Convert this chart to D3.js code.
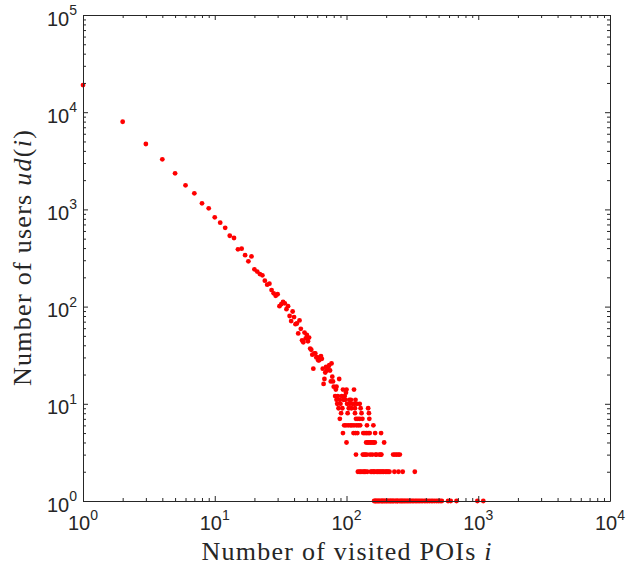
<!DOCTYPE html>
<html>
<head>
<meta charset="utf-8">
<script src="https://cdn.jsdelivr.net/npm/d3@7"></script>
<style>
  body { margin: 0; background: #fff; }
  svg { display: block; }
</style>
</head>
<body>
<div id="chart-container"></div>
<script>
// POIs visited (i) -> number of users ud(i)
const headPois = [1, 2, 3, 4, 5, 6, 7, 8, 9, 10, 11, 12, 13, 14, 15, 16, 17, 18, 19, 20,
  21, 22, 23, 24, 25, 26, 27, 28, 29, 30, 31, 32, 33, 34, 35, 36, 37, 38, 39, 40,
  41, 42, 43, 44, 45, 46, 47, 48, 49, 50, 51, 52, 53, 54, 55, 56, 57, 58, 59, 60,
  61, 62, 63, 64, 65, 66, 69, 70, 71, 73, 74, 75, 77];
const headUsers = [19000, 7980, 4710, 3275, 2350, 1770, 1465, 1155, 1027, 829, 730, 646, 536, 508, 388, 394, 338, 292, 328, 242,
  229, 216, 210, 185, 168, 172, 148, 137, 129, 134, 101, 106, 112, 108, 94, 101, 80, 71, 89, 78,
  66, 67, 53, 72, 59, 45, 43, 54, 47, 51, 44, 48, 37, 36, 32, 23, 33, 33, 30, 30,
  28, 28, 30, 31, 29, 23, 21, 24, 22, 24, 25, 22, 26];

// low counts line up in rows (same number of users, many POI values)
const rowUsers = [19, 18, 17, 16, 15, 14, 13, 12, 11, 10, 9, 8, 7, 6, 5, 4, 3, 2, 1];
const rowPois = [
  [78],
  [68, 88],
  [76, 79],
  [67],
  [80, 84],
  [83, 94, 100, 114],
  [99],
  [82, 86, 92, 97],
  [84, 89, 95, 98, 105, 108, 117],
  [85, 90, 101, 106, 111, 115, 120, 126],
  [87, 93, 104, 109, 116, 128, 146],
  [91, 102, 116, 130, 148],
  [89, 118, 122, 126, 132, 149],
  [96, 99, 103, 107, 110, 114, 119, 123, 127, 143, 160],
  [94, 113, 117, 121, 134, 138, 142, 146, 150, 165, 183],
  [100, 141, 145, 148, 152, 156, 160, 164, 193],
  [118, 133, 136, 139, 143, 151, 157, 166, 169, 177, 182, 184, 226, 233, 240, 247, 254],
  [122, 125, 128, 131, 135, 137, 140, 144, 153, 155, 159, 161, 163, 168, 172, 174, 178,
   181, 185, 189, 191, 197, 200, 204, 208, 212, 231, 248, 267, 330],
  [162, 165, 167, 170, 173, 176, 179, 183, 186, 188, 192, 195, 199, 202, 206, 210, 214,
   217, 221, 225, 228, 234, 238, 243, 245, 252, 257, 262, 266, 272, 277, 283, 289, 295,
   302, 308, 316, 323, 332, 340, 349, 358, 368, 378, 390, 401, 413, 426, 440, 452, 467,
   483, 498, 514, 529, 590, 618, 684, 985, 1092]
];

const xMajorTicks = [1, 10, 100, 1000, 10000];
const yMajorTicks = [1, 10, 100, 1000, 10000, 100000];

((() => {
  const width = 626;
  const height = 572;
  const marginTop = 15;
  const marginRight = 16;
  const marginBottom = 71;
  const marginLeft = 83;
  const axisColor = "#262626";

  const points = headPois.map((p, i) => ({poi: p, users: headUsers[i]}));
  rowUsers.forEach((u, r) => rowPois[r].forEach(p => points.push({poi: p, users: u})));

  const x = d3.scaleLog()
    .domain([1, 1e4])
    .range([marginLeft, width - marginRight]);

  const y = d3.scaleLog()
    .domain([1, 1e5])
    .range([height - marginBottom, marginTop]);

  // minor ticks 2..9 in every decade
  const minorOf = majors => majors.slice(0, -1)
    .flatMap(d => [2, 3, 4, 5, 6, 7, 8, 9].map(k => d * k));
  const xMinorTicks = minorOf(xMajorTicks);
  const yMinorTicks = minorOf(yMajorTicks);

  const svg = d3.create("svg")
    .attr("width", width)
    .attr("height", height)
    .attr("viewBox", [0, 0, width, height]);

  // points first so the box sits on top of them
  svg.append("g")
    .attr("fill", "#ff0000")
    .selectAll("circle")
    .data(points)
    .join("circle")
    .attr("cx", d => x(d.poi))
    .attr("cy", d => y(d.users))
    .attr("r", 2.4);

  // box with inward ticks on all four sides
  const sides = [
    {axis: d3.axisBottom, scale: x, tr: `translate(0,${height - marginBottom})`, major: xMajorTicks, minor: xMinorTicks},
    {axis: d3.axisTop, scale: x, tr: `translate(0,${marginTop})`, major: xMajorTicks, minor: xMinorTicks},
    {axis: d3.axisLeft, scale: y, tr: `translate(${marginLeft},0)`, major: yMajorTicks, minor: yMinorTicks},
    {axis: d3.axisRight, scale: y, tr: `translate(${width - marginRight},0)`, major: yMajorTicks, minor: yMinorTicks}
  ];
  sides.forEach(s => {
    svg.append("g")
      .attr("transform", s.tr)
      .attr("color", axisColor)
      .call(s.axis(s.scale).tickValues(s.minor).tickSizeInner(-3).tickSizeOuter(0).tickFormat(""))
      .call(g => g.select(".domain").remove());
    svg.append("g")
      .attr("transform", s.tr)
      .attr("color", axisColor)
      .call(s.axis(s.scale).tickValues(s.major).tickSizeInner(-5).tickSizeOuter(0).tickFormat(""));
  });

  const tickFont = "'Liberation Sans', Arial, Helvetica, sans-serif";

  // x tick labels 10^k
  const xl = svg.append("g")
    .attr("fill", axisColor)
    .attr("font-family", tickFont)
    .attr("font-size", 20)
    .selectAll("text")
    .data(xMajorTicks)
    .join("text")
    .attr("x", d => x(d))
    .attr("y", height - marginBottom + 29)
    .attr("text-anchor", "middle");
  xl.append("tspan").text("10");
  xl.append("tspan").attr("font-size", 14).attr("dy", -10).text(d => Math.round(Math.log10(d)));

  // y tick labels 10^k
  const yl = svg.append("g")
    .attr("fill", axisColor)
    .attr("font-family", tickFont)
    .attr("font-size", 20)
    .selectAll("text")
    .data(yMajorTicks)
    .join("text")
    .attr("x", marginLeft - 6)
    .attr("y", d => y(d) + 10.5)
    .attr("text-anchor", "end");
  yl.append("tspan").text("10");
  yl.append("tspan").attr("font-size", 14).attr("dy", -10.5).text(d => Math.round(Math.log10(d)));

  const titleFont = "'Liberation Serif', 'Times New Roman', serif";

  // x title
  const xt = svg.append("text")
    .attr("x", (marginLeft + width - marginRight) / 2)
    .attr("y", 560)
    .attr("text-anchor", "middle")
    .attr("fill", axisColor)
    .attr("font-family", titleFont)
    .attr("font-size", 26)
    .attr("textLength", 290)
    .attr("lengthAdjust", "spacing");
  xt.append("tspan").text("Number of visited POIs ");
  xt.append("tspan").attr("font-style", "italic").text("i");

  // y title
  const yt = svg.append("text")
    .attr("transform", `translate(31,${(marginTop + height - marginBottom) / 2}) rotate(-90)`)
    .attr("text-anchor", "middle")
    .attr("fill", axisColor)
    .attr("font-family", titleFont)
    .attr("font-size", 26)
    .attr("textLength", 256)
    .attr("lengthAdjust", "spacing");
  yt.append("tspan").text("Number of users ");
  yt.append("tspan").attr("font-style", "italic").text("ud");
  yt.append("tspan").text("(");
  yt.append("tspan").attr("font-style", "italic").text("i");
  yt.append("tspan").text(")");

  d3.select("#chart-container").append(() => svg.node());
})());
</script>
</body>
</html>
